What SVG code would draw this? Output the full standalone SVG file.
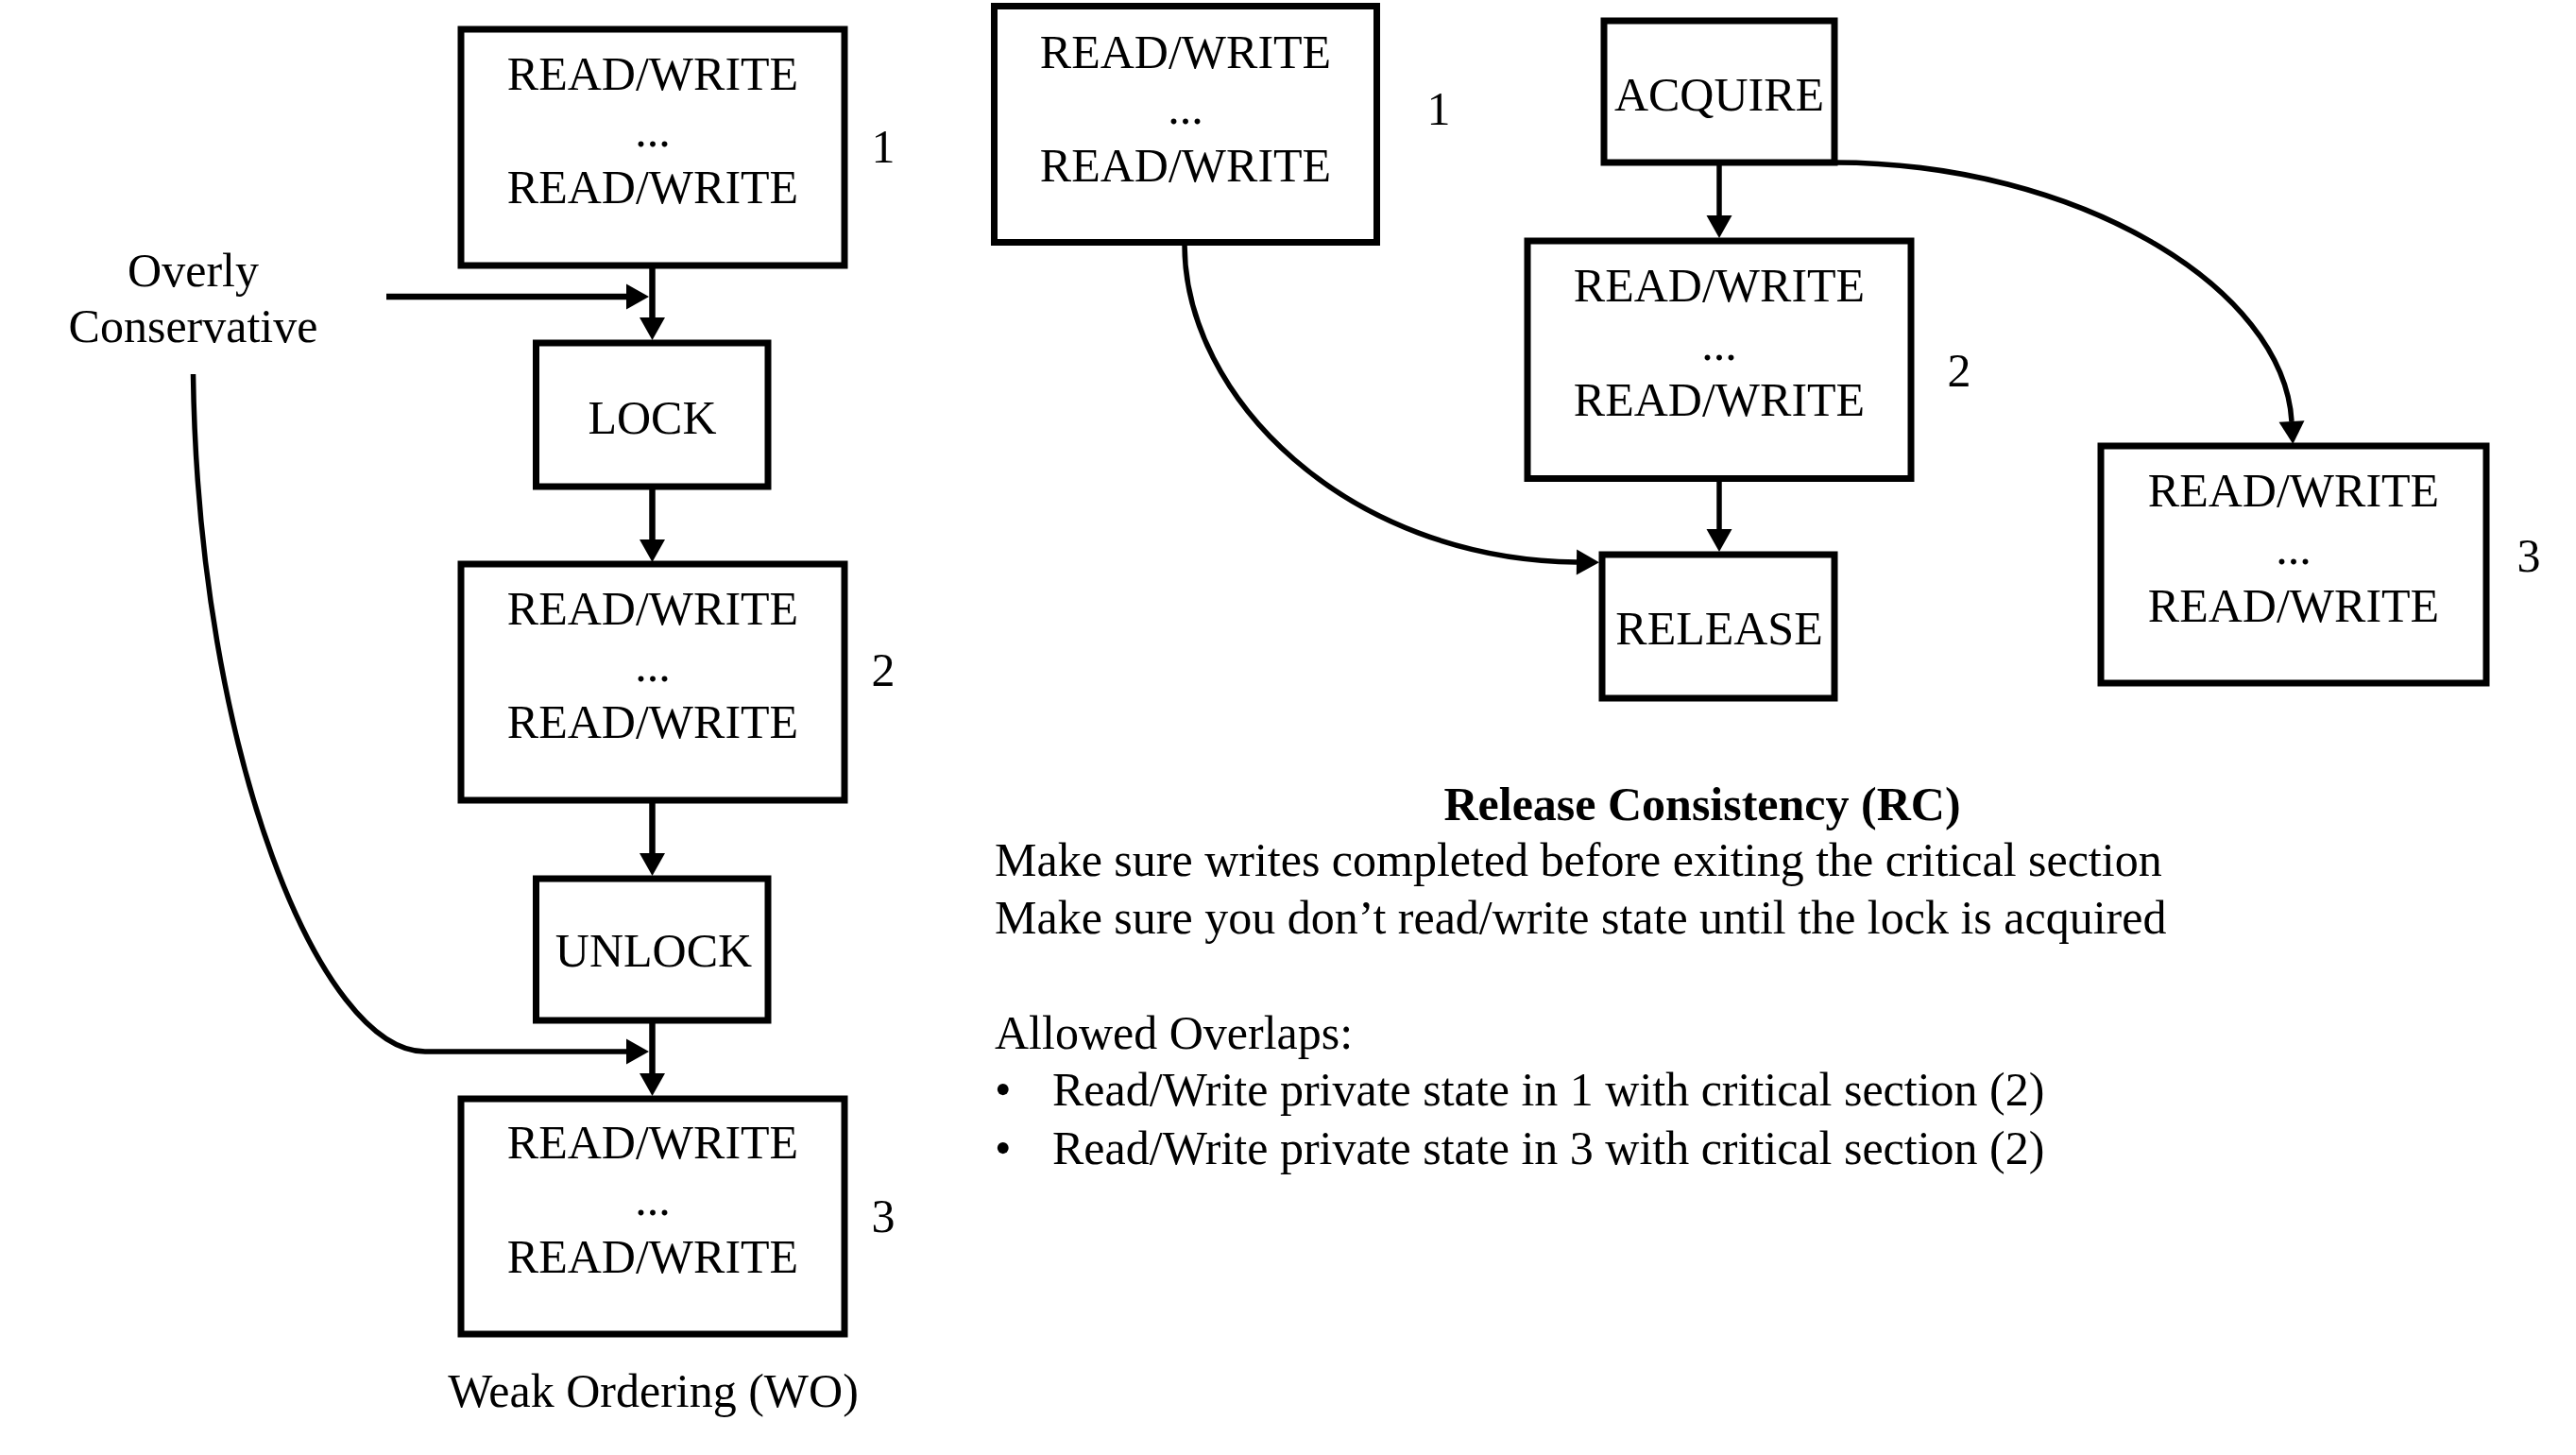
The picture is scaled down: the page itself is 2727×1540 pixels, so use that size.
<svg xmlns="http://www.w3.org/2000/svg" width="2727" height="1540" viewBox="0 0 2727 1540">
<style>
text{font-family:"Liberation Serif","Times New Roman",serif;font-size:50px;fill:#000}
.c{text-anchor:middle}
.b{font-weight:bold}
.box{fill:#fff;stroke:#000;stroke-width:7}
.ln{fill:none;stroke:#000;stroke-width:6.5}
.cv{fill:none;stroke:#000;stroke-width:5.5}
</style>
<defs>
<marker id="ah" markerUnits="userSpaceOnUse" markerWidth="26" markerHeight="28" refX="0" refY="13.5" orient="auto" overflow="visible">
<path d="M0,0 L24,13.5 L0,27 z" fill="#000"/>
</marker>
</defs>
<rect width="2727" height="1540" fill="#fff"/>

<g id="connectors">
<line class="ln" x1="690.5" y1="281" x2="690.5" y2="336" marker-end="url(#ah)"/>
<line class="ln" x1="409" y1="314" x2="663" y2="314" marker-end="url(#ah)"/>
<line class="ln" x1="690.5" y1="515" x2="690.5" y2="571" marker-end="url(#ah)"/>
<line class="ln" x1="690.5" y1="847" x2="690.5" y2="903" marker-end="url(#ah)"/>
<line class="ln" x1="690.5" y1="1080" x2="690.5" y2="1136" marker-end="url(#ah)"/>
<path class="cv" d="M204.5,396 C210,800 340,1113 450,1113 L663,1113" marker-end="url(#ah)"/>
<line class="cv" x1="1820" y1="172" x2="1820" y2="228" marker-end="url(#ah)"/>
<line class="cv" x1="1820" y1="507" x2="1820" y2="560" marker-end="url(#ah)"/>
<path class="cv" d="M1254,259 C1254,420 1425,592 1669,595" marker-end="url(#ah)"/>
<path class="cv" d="M1942,172 C2200,172 2418,305 2426,446" marker-end="url(#ah)"/>
</g>

<g id="wo-rw1">
<rect class="box" x="488" y="31" width="406" height="250"/>
<text class="c" x="691" y="95">READ/WRITE</text>
<text class="c" x="691" y="155">...</text>
<text class="c" x="691" y="215">READ/WRITE</text>
</g>
<g id="wo-label1"><text class="c" x="935" y="172">1</text></g>
<g id="overly-conservative">
<text class="c" x="204.5" y="303">Overly</text>
<text class="c" x="204.5" y="362">Conservative</text>
</g>
<g id="wo-lock">
<rect class="box" x="567.5" y="363" width="245.5" height="152"/>
<text class="c" x="690.5" y="459">LOCK</text>
</g>
<g id="wo-rw2">
<rect class="box" x="488" y="597" width="406" height="250"/>
<text class="c" x="691" y="661">READ/WRITE</text>
<text class="c" x="691" y="721">...</text>
<text class="c" x="691" y="781">READ/WRITE</text>
</g>
<g id="wo-label2"><text class="c" x="935" y="726">2</text></g>
<g id="wo-unlock">
<rect class="box" x="567.5" y="930" width="245.5" height="150"/>
<text class="c" x="692" y="1023">UNLOCK</text>
</g>
<g id="wo-rw3">
<rect class="box" x="488" y="1163" width="406" height="249"/>
<text class="c" x="691" y="1226">READ/WRITE</text>
<text class="c" x="691" y="1286">...</text>
<text class="c" x="691" y="1347">READ/WRITE</text>
</g>
<g id="wo-label3"><text class="c" x="935" y="1304">3</text></g>
<g id="wo-title"><text class="c" x="691.5" y="1489">Weak Ordering (WO)</text></g>

<g id="rc-rw1">
<rect class="box" x="1052.5" y="6.5" width="405" height="250"/>
<text class="c" x="1255" y="72">READ/WRITE</text>
<text class="c" x="1255" y="131">...</text>
<text class="c" x="1255" y="192">READ/WRITE</text>
</g>
<g id="rc-label1"><text class="c" x="1523" y="132">1</text></g>
<g id="rc-acquire">
<rect class="box" x="1698" y="22" width="244" height="150"/>
<text class="c" x="1820" y="117">ACQUIRE</text>
</g>
<g id="rc-rw2">
<rect class="box" x="1617" y="255" width="406" height="251.5"/>
<text class="c" x="1820" y="319">READ/WRITE</text>
<text class="c" x="1820" y="381">...</text>
<text class="c" x="1820" y="440">READ/WRITE</text>
</g>
<g id="rc-label2"><text class="c" x="2074" y="409">2</text></g>
<g id="rc-release">
<rect class="box" x="1696" y="587" width="246" height="152"/>
<text class="c" x="1820" y="682">RELEASE</text>
</g>
<g id="rc-rw3">
<rect class="box" x="2224" y="472" width="408" height="251"/>
<text class="c" x="2428" y="536">READ/WRITE</text>
<text class="c" x="2428" y="597">...</text>
<text class="c" x="2428" y="658">READ/WRITE</text>
</g>
<g id="rc-label3"><text class="c" x="2677" y="605">3</text></g>

<g id="rc-description">
<text class="c b" x="1802" y="868">Release Consistency (RC)</text>
<text x="1053" y="927">Make sure writes completed before exiting the critical section</text>
<text x="1053" y="988">Make sure you don’t read/write state until the lock is acquired</text>
<text x="1053" y="1110">Allowed Overlaps:</text>
<text x="1053" y="1170">•</text>
<text x="1114" y="1170">Read/Write private state in 1 with critical section (2)</text>
<text x="1053" y="1232">•</text>
<text x="1114" y="1232">Read/Write private state in 3 with critical section (2)</text>
</g>
</svg>
